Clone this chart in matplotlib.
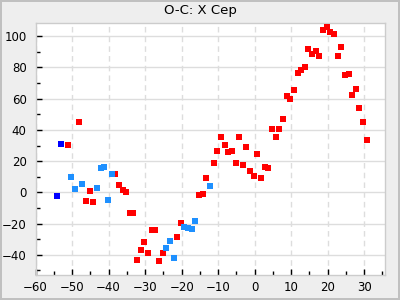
import matplotlib
matplotlib.use("Agg")
import matplotlib.pyplot as plt
from matplotlib.ticker import MultipleLocator

# ---------------- Data ----------------
TITLE = "O-C: X Cep"

# red series
red_x = [-51.1, -48.1, -46.1, -45.0, -44.2, -38.2, -37.1, -36.0, -35.2, -34.1, -33.3,
         -32.2, -31.1, -30.2, -29.2, -28.1, -27.2, -26.1, -25.0, -21.2, -20.1,
         -15.2, -14.1, -13.3, -11.1, -10.2, -9.2, -8.1, -7.2, -6.1, -5.0, -4.2,
         -3.1, -2.3, -1.2, -0.1, 0.7, 1.8, 2.9, 3.7, 4.8, 5.9, 6.7, 7.8, 8.9,
         9.8, 10.8, 11.9, 12.8, 13.9, 14.7, 15.8, 16.9, 17.7, 18.8, 19.9, 20.7,
         21.8, 22.9, 23.7, 24.8, 25.9, 26.7, 27.8, 28.7, 29.8, 30.8]
red_y = [30.4, 45.1, -5.6, 0.8, -6.3, 11.5, 4.6, 1.4, 0.1, -13.4, -13.4,
         -43.0, -37.2, -32.0, -39.1, -23.9, -24.3, -44.2, -39.1, -28.8, -19.8,
         -1.8, -1.2, 9.1, 18.8, 26.2, 35.5, 30.4, 25.6, 26.2, 18.8, 35.5,
         17.5, 29.1, 13.6, 10.4, 24.6, 9.1, 16.2, 15.6, 40.6, 35.5, 40.6, 47.1, 61.9,
         59.9, 65.4, 76.7, 78.6, 80.5, 92.1, 88.9, 90.8, 87.6, 103.7, 106.2, 103.0,
         101.7, 87.6, 93.4, 75.4, 76.0, 62.5, 66.4, 54.1, 45.1, 33.5]

# light blue series
lblue_x = [-50.2, -49.2, -47.2, -43.1, -42.0, -41.2, -40.1, -39.2, -24.2, -23.1,
           -22.0, -19.3, -18.2, -17.1, -16.3, -12.2]
lblue_y = [9.8, 2.1, 5.3, 2.7, 15.6, 16.2, -4.7, 11.5, -35.9, -31.4,
           -41.7, -22.4, -23.0, -23.7, -18.5, 4.0]

# dark blue series
dblue_x = [-53.0, -54.1]
dblue_y = [31.0, -2.4]

# ---------------- Plot ----------------
fig = plt.figure(figsize=(4, 3), dpi=100)
fig.patch.set_facecolor("#eeeeee")
fig.patch.set_edgecolor("#c0c0c0")
fig.patch.set_linewidth(1.5)

ax = fig.add_axes([0.089, 0.0833, 0.8735, 0.8387])
ax.set_facecolor("white")

ax.scatter(red_x, red_y, marker="s", s=25, color="#ff0000", linewidths=0, zorder=3)
ax.scatter(lblue_x, lblue_y, marker="s", s=25, color="#1e90ff", linewidths=0, zorder=3)
ax.scatter(dblue_x, dblue_y, marker="s", s=25, color="#0000ff", linewidths=0, zorder=3)

ax.set_xlim(-60, 35.7)
ax.set_ylim(-52.9, 108.2)

ax.xaxis.set_major_locator(MultipleLocator(10))
ax.xaxis.set_minor_locator(MultipleLocator(5))
ax.yaxis.set_major_locator(MultipleLocator(20))
ax.yaxis.set_minor_locator(MultipleLocator(10))

ax.tick_params(which="both", direction="in", color="black", labelsize=8.5)
ax.tick_params(which="major", length=4.5, width=1)
ax.tick_params(which="minor", length=3, width=1)
ax.tick_params(axis="y", pad=6.5)
ax.tick_params(axis="x", pad=4.5)

ax.yaxis.grid(True, color="#dddddd", linestyle="-", linewidth=1)
ax.xaxis.grid(True, color="#dddddd", linestyle=(0, (4, 3)), linewidth=1)
ax.set_axisbelow(True)

for sp in ax.spines.values():
    sp.set_color("#cccccc")
    sp.set_linewidth(1)

fig.text(0.5, 1 - 10.5 / 300, TITLE, ha="center", va="center", fontsize=9.5)

fig.savefig("out.png", dpi=100, facecolor=fig.get_facecolor(), edgecolor=fig.get_edgecolor())
